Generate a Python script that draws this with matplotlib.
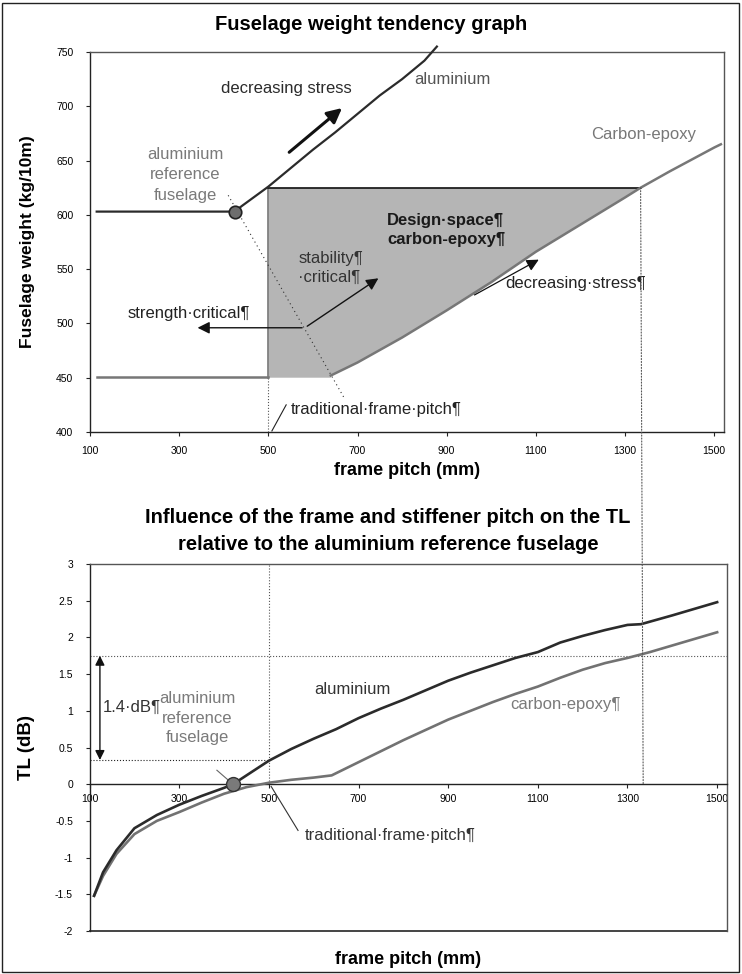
import numpy as np
import matplotlib
matplotlib.use("Agg")
import matplotlib.pyplot as plt
from matplotlib.patches import ConnectionPatch, Rectangle, Polygon

plt.rcParams['font.family'] = ['Liberation Sans', 'DejaVu Sans']

# ---------------- data: top chart (fuselage weight) ----------------
alu_w_x = [115, 425, 440, 470, 500, 550, 600, 650, 700, 750, 800, 850, 878]
alu_w_y = [603, 603, 608, 617, 626, 643, 660, 676, 693, 710, 725, 742, 755]
cf_flat_x = [115, 500]
cf_flat_y = [451, 451]
cf_w_x = [640, 700, 800, 900, 1000, 1100, 1200, 1300, 1335, 1400, 1500, 1515]
cf_w_y = [452, 464, 487, 512, 538, 566, 591, 616, 625, 640, 662, 665]
ref_pitch_alu = 425
ref_weight_alu = 603
trad_pitch = 500
max_pitch_cf = 1335
design_top = 625
design_bottom = 450
top_xticks = [100, 300, 500, 700, 900, 1100, 1300, 1500]
top_yticks = [400, 450, 500, 550, 600, 650, 700, 750]

# ---------------- data: bottom chart (TL) ----------------
alu_tl_x = [110, 130, 160, 200, 250, 300, 350, 400, 420, 450, 500, 550, 600, 650, 700,
            750, 800, 850, 900, 950, 1000, 1050, 1100, 1150, 1200, 1250, 1300, 1330,
            1400, 1450, 1500]
alu_tl_y = [-1.52, -1.2, -0.9, -0.6, -0.42, -0.28, -0.16, -0.05, 0.0, 0.12, 0.32, 0.48,
            0.62, 0.75, 0.9, 1.03, 1.15, 1.28, 1.41, 1.52, 1.62, 1.72, 1.80, 1.93, 2.02,
            2.10, 2.17, 2.18, 2.30, 2.39, 2.48]
cf_tl_x = [110, 130, 160, 200, 250, 300, 350, 400, 450, 500, 550, 600, 640, 700, 750,
           800, 850, 900, 950, 1000, 1050, 1100, 1150, 1200, 1250, 1300, 1350, 1400,
           1450, 1500]
cf_tl_y = [-1.52, -1.25, -0.95, -0.68, -0.5, -0.38, -0.25, -0.13, -0.04, 0.02, 0.06,
           0.09, 0.12, 0.3, 0.45, 0.6, 0.74, 0.88, 1.0, 1.12, 1.23, 1.33, 1.45, 1.56,
           1.65, 1.72, 1.80, 1.89, 1.98, 2.07]
ref_pitch_tl = 420
tl_at_trad = 0.33
tl_at_max = 1.75
bot_xticks = [100, 300, 500, 700, 900, 1100, 1300, 1500]
bot_yticks = [-2, -1.5, -1, -0.5, 0, 0.5, 1, 1.5, 2, 2.5, 3]
bot_yticklabels = ['-2', '-1.5', '-1', '-0.5', '0', '0.5', '1', '1.5', '2', '2.5', '3']

W, H = 742, 974
fig = plt.figure(figsize=(W / 100, H / 100), dpi=100)
fig.patch.set_facecolor('white')

DARK = '#2b2b2b'
GREY = '#777777'
FS = 12

def fr(l, t, r, b):
    return [l / W, 1 - b / H, (r - l) / W, (b - t) / H]

# ================= TOP CHART =================
ax1 = fig.add_axes(fr(90, 52, 724, 432))
ax1.set_xlim(100, 1522)
ax1.set_ylim(400, 750)
for s in ax1.spines.values():
    s.set_color('#555555')
    s.set_linewidth(1.0)
ax1.spines['left'].set_color('#222222')
ax1.spines['bottom'].set_color('#222222')
ax1.set_xticks(top_xticks)
ax1.set_yticks(top_yticks)
ax1.set_xticklabels([str(v) for v in top_xticks])
ax1.set_yticklabels([str(v) for v in top_yticks])
ax1.tick_params(axis='both', labelsize=7.5, length=3, width=0.8, color='#222222', direction='out')
ax1.tick_params(axis='y', pad=9)
ax1.tick_params(axis='x', pad=7)

# design space polygon
cf_rev_x = [x for x in cf_w_x if x <= max_pitch_cf][::-1]
cf_rev_y = [y for x, y in zip(cf_w_x, cf_w_y) if x <= max_pitch_cf][::-1]
poly_x = [trad_pitch, trad_pitch, max_pitch_cf] + cf_rev_x + [cf_w_x[0]]
poly_y = [design_bottom, design_top, design_top] + cf_rev_y + [design_bottom]
ax1.add_patch(Polygon(list(zip(poly_x, poly_y)), closed=True, facecolor='#b5b5b5',
                      edgecolor='none', zorder=1))
ax1.plot([trad_pitch, trad_pitch], [design_bottom, design_top], color=GREY, lw=1.2, zorder=2)
ax1.plot([trad_pitch, max_pitch_cf], [design_top, design_top], color='#111111', lw=1.2, zorder=2)
ax1.plot([trad_pitch, trad_pitch], [400, design_bottom], color='#555555', lw=0.8, ls=':', zorder=2)

ax1.plot(cf_flat_x, cf_flat_y, color=GREY, lw=1.8, zorder=3)
ax1.plot(cf_w_x, cf_w_y, color=GREY, lw=1.8, zorder=3)
ax1.plot(alu_w_x, alu_w_y, color=DARK, lw=1.6, zorder=3, clip_on=False)
ax1.plot([ref_pitch_alu], [ref_weight_alu], marker='o', ms=9, mfc='#6e6e6e', mec='#222222',
         mew=1.2, zorder=5, ls='none')

# dotted diagonal through reference point
ax1.plot([410, 672], [618, 430], color='#333333', lw=0.8, ls=(0, (1, 3)), zorder=4)

# texts
ax1.text(540, 716, 'decreasing stress', fontsize=FS, color=DARK, ha='center', va='center')
ax1.annotate('', xy=(670, 700), xytext=(542, 656),
             arrowprops=dict(arrowstyle='-|>', lw=2.2, color='#111111', mutation_scale=22))
ax1.text(827, 725, 'aluminium', fontsize=FS, color='#555555', ha='left', va='center')
ax1.text(1224, 674, 'Carbon-epoxy', fontsize=FS, color='#777777', ha='left', va='center')
ax1.text(313, 637, 'aluminium\nreference\nfuselage', fontsize=FS, color='#7a7a7a',
         ha='center', va='center', linespacing=1.45)
ax1.text(766, 586, 'Design·space¶\ncarbon-epoxy¶', fontsize=FS, fontweight='bold',
         color='#1a1a1a', ha='left', va='center', linespacing=1.35)
ax1.text(567, 551, 'stability¶\n·critical¶', fontsize=FS, color='#333333',
         ha='left', va='center', linespacing=1.3)
ax1.annotate('', xy=(752, 543), xytext=(582, 496),
             arrowprops=dict(arrowstyle='-|>', lw=1.0, color='#111111', mutation_scale=18))
ax1.text(185, 509, 'strength·critical¶', fontsize=FS, color='#222222', ha='left', va='center')
ax1.annotate('', xy=(335, 496), xytext=(582, 496),
             arrowprops=dict(arrowstyle='-|>', lw=1.0, color='#111111', mutation_scale=18))
ax1.text(1031, 537, 'decreasing·stress¶', fontsize=FS, color='#222222', ha='left', va='center')
ax1.annotate('', xy=(1112, 560), xytext=(957, 525),
             arrowprops=dict(arrowstyle='-|>', lw=0.9, color='#111111', mutation_scale=18))
ax1.text(551, 421, 'traditional·frame·pitch¶', fontsize=FS, color='#222222',
         ha='left', va='center')
ax1.plot([508, 540], [401, 425], color='#222222', lw=0.8)

ax1.set_xlabel('frame pitch (mm)', fontsize=13, fontweight='bold')
ax1.xaxis.set_label_coords(0.5, (432 - 462) / 380)
ax1.set_ylabel('Fuselage weight (kg/10m)', fontsize=12.5, fontweight='bold')
ax1.yaxis.set_label_coords((35 - 90) / 634, 0.5)
fig.text(0.5, 1 - 24 / H, 'Fuselage weight tendency graph', fontsize=14.5,
         fontweight='bold', ha='center', va='center')

# ================= BOTTOM CHART =================
ax2 = fig.add_axes(fr(89.6, 564, 727, 931))
ax2.set_xlim(100, 1522)
ax2.set_ylim(-2, 3)
for s in ax2.spines.values():
    s.set_color('#555555')
    s.set_linewidth(1.0)
ax2.spines['left'].set_color('#222222')
ax2.spines['bottom'].set_position(('data', 0))
ax2.spines['bottom'].set_color('#222222')
ax2.axhline(-2, color='#444444', lw=1.4, clip_on=False)
ax2.set_xticks(bot_xticks)
ax2.set_xticklabels([str(v) for v in bot_xticks])
ax2.set_yticks(bot_yticks)
ax2.set_yticklabels(bot_yticklabels)
ax2.tick_params(axis='both', labelsize=7.5, length=3, width=0.8, color='#222222', direction='out')
ax2.tick_params(axis='y', pad=9)
ax2.tick_params(axis='x', pad=4)

ax2.plot([100, 1522], [tl_at_max, tl_at_max], color='#555555', lw=0.8, ls=':', zorder=2)
ax2.plot([100, trad_pitch], [tl_at_trad, tl_at_trad], color='#222222', lw=0.8, ls=':', zorder=2)
ax2.plot([trad_pitch, trad_pitch], [0, 3], color='#555555', lw=0.8, ls=':', zorder=2)

ax2.plot(cf_tl_x, cf_tl_y, color='#727272', lw=1.9, zorder=3)
ax2.plot(alu_tl_x, alu_tl_y, color=DARK, lw=1.9, zorder=3)
ax2.plot([ref_pitch_tl], [0], marker='o', ms=10, mfc='#7a7a7a', mec='#333333', mew=1.0,
         zorder=5, ls='none')

ax2.annotate('', xy=(123, tl_at_max), xytext=(123, tl_at_trad),
             arrowprops=dict(arrowstyle='<|-|>', lw=1.0, color='#111111', mutation_scale=14,
                             shrinkA=0, shrinkB=0))
ax2.text(130, 1.05, '1.4·dB¶', fontsize=FS, color='#333333', ha='left', va='center')
ax2.text(340, 0.9, 'aluminium\nreference\nfuselage', fontsize=FS, color='#7a7a7a',
         ha='center', va='center', linespacing=1.4)
ax2.plot([384, 416], [0.19, 0.02], color='#666666', lw=0.8)
ax2.text(686, 1.29, 'aluminium', fontsize=FS, color='#333333', ha='center', va='center')
ax2.text(1038, 1.08, 'carbon-epoxy¶', fontsize=FS, color='#7a7a7a', ha='left', va='center')
ax2.text(580, -0.7, 'traditional·frame·pitch¶', fontsize=FS, color='#333333',
         ha='left', va='center')
ax2.plot([505, 565], [-0.03, -0.63], color='#333333', lw=0.8)

ax2.set_xlabel('frame pitch (mm)', fontsize=13, fontweight='bold')
ax2.xaxis.set_label_coords(0.5, (931 - 951) / 367)
ax2.set_ylabel('TL (dB)', fontsize=13.5, fontweight='bold')
ax2.yaxis.set_label_coords((35 - 89.6) / 637.4, 0.5)
fig.text(0.523, 1 - 531 / H,
         'Influence of the frame and stiffener pitch on the TL\n'
         'relative to the aluminium reference fuselage',
         fontsize=14.5, fontweight='bold', ha='center', va='center', linespacing=1.5)

# long dotted line linking the two charts at the maximum carbon pitch
con = ConnectionPatch(xyA=(max_pitch_cf, design_top), coordsA=ax1.transData,
                      xyB=(max_pitch_cf, 0), coordsB=ax2.transData,
                      color='#555555', lw=0.8, ls=':')
fig.add_artist(con)

# figure border
fig.add_artist(Rectangle((2 / W, 2 / H), 1 - 5 / W, 1 - 5 / H, transform=fig.transFigure,
                         fill=False, edgecolor='#222222', lw=1.0))

fig.savefig('out.png', dpi=100)
